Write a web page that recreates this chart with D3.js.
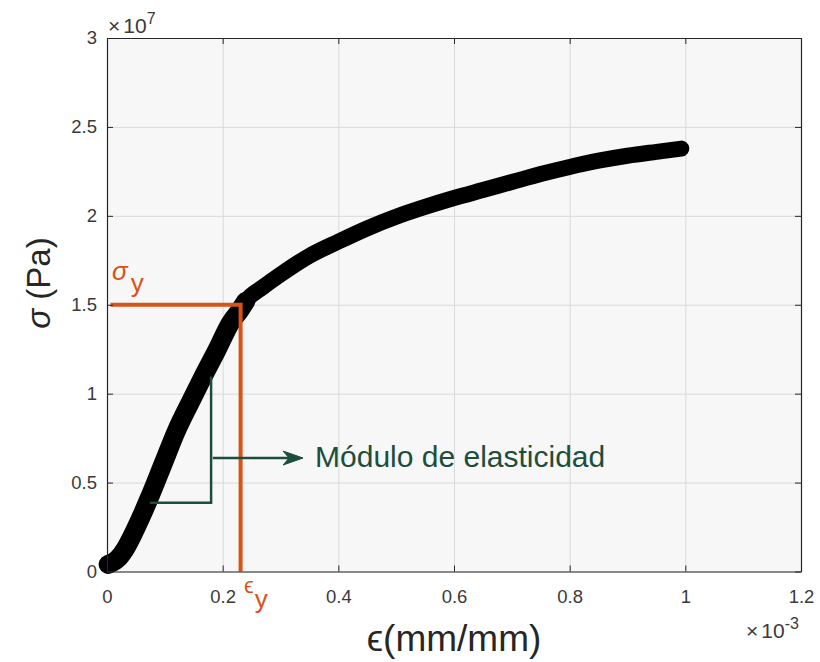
<!DOCTYPE html>
<html>
<head>
<meta charset="utf-8">
<script src="https://cdn.jsdelivr.net/npm/d3@7"></script>
<style>
  html, body { margin: 0; padding: 0; background: #ffffff; }
  svg { display: block; font-family: "Liberation Sans", Arial, Helvetica, sans-serif; }
</style>
</head>
<body>
<svg id="chart" width="820" height="662"></svg>
<script>
// ---- data (strain in 1e-3 mm/mm, stress in 1e7 Pa) ----
const strain = [0.002, 0.018, 0.032, 0.045, 0.058, 0.074, 0.097, 0.120, 0.143, 0.166, 0.190, 0.213, 0.230,
                0.240, 0.270, 0.300, 0.350, 0.400, 0.450, 0.500, 0.550, 0.600, 0.650, 0.700, 0.750, 0.800,
                0.850, 0.900, 0.950, 0.993];
const stress = [0.040, 0.070, 0.130, 0.210, 0.300, 0.420, 0.605, 0.790, 0.945, 1.095, 1.245, 1.395, 1.470,
                1.520, 1.600, 1.670, 1.775, 1.855, 1.930, 1.995, 2.050, 2.100, 2.145, 2.190, 2.235, 2.275,
                2.310, 2.338, 2.360, 2.378];

const xTicks = [0, 0.2, 0.4, 0.6, 0.8, 1, 1.2];
const xTickLabels = ["0", "0.2", "0.4", "0.6", "0.8", "1", "1.2"];
const yTicks = [0, 0.5, 1, 1.5, 2, 2.5, 3];
const yTickLabels = ["0", "0.5", "1", "1.5", "2", "2.5", "3"];

// yield point annotation
const yieldStrain = [0.006, 0.231, 0.231];
const yieldStress = [1.5, 1.5, 0];
// modulus triangle and arrow
const triStrain = [0.074, 0.180, 0.180];
const triStress = [0.387, 0.387, 1.096];
const arrowStrain = [0.183, 0.339];
const arrowStress = [0.638, 0.638];
const annotationText = "Módulo de elasticidad";

// ---- layout ----
const svg = d3.select("#chart");
const L = 107, R = 801, T = 38, B = 571.5;
const x = d3.scaleLinear().domain([0, 1.2]).range([L, R]);
const y = d3.scaleLinear().domain([0, 3]).range([B, T]);
const axisColor = "#262626";
const labelColor = "#3a3a3a";
const orange = "#D95319";
const green = "#1d4d3b";

// plot background
svg.append("rect").attr("x", L).attr("y", T).attr("width", R - L).attr("height", B - T)
  .attr("fill", "#f7f7f7");

// grid
const gx = svg.append("g").attr("transform", `translate(0,${B})`)
  .call(d3.axisBottom(x).tickValues(xTicks).tickSize(-(B - T)).tickFormat(""));
gx.select(".domain").remove();
gx.selectAll("line").attr("stroke", "#dadada").attr("stroke-width", 1);
const gy = svg.append("g").attr("transform", `translate(${L},0)`)
  .call(d3.axisLeft(y).tickValues(yTicks).tickSize(-(R - L)).tickFormat(""));
gy.select(".domain").remove();
gy.selectAll("line").attr("stroke", "#dadada").attr("stroke-width", 1);

// curve
const idx = d3.range(strain.length);
const line = d3.line().x(i => x(strain[i])).y(i => y(stress[i])).curve(d3.curveMonotoneX);
svg.append("path").datum(idx.filter(i => strain[i] <= 0.24)).attr("d", line)
  .attr("fill", "none").attr("stroke", "#000").attr("stroke-width", 19)
  .attr("stroke-linecap", "round").attr("stroke-linejoin", "round");
svg.append("path").datum(idx).attr("d", line)
  .attr("fill", "none").attr("stroke", "#000").attr("stroke-width", 16)
  .attr("stroke-linecap", "round").attr("stroke-linejoin", "round");

// yield lines
const yl = d3.line().x((d, i) => x(yieldStrain[i])).y((d, i) => y(yieldStress[i]));
svg.append("path").datum(yieldStrain).attr("d", yl)
  .attr("fill", "none").attr("stroke", orange).attr("stroke-width", 4).attr("stroke-linejoin", "miter");

// modulus triangle
const tl = d3.line().x((d, i) => x(triStrain[i])).y((d, i) => y(triStress[i]));
svg.append("path").datum(triStrain).attr("d", tl)
  .attr("fill", "none").attr("stroke", green).attr("stroke-width", 2.5);

// arrow
const ax0 = x(arrowStrain[0]), ax1 = x(arrowStrain[1]), ay = y(arrowStress[0]);
svg.append("line").attr("x1", ax0).attr("x2", ax1 - 8).attr("y1", ay).attr("y2", ay)
  .attr("stroke", green).attr("stroke-width", 2.5);
svg.append("path")
  .attr("d", `M${ax1},${ay} L${ax1 - 20},${ay - 7} L${ax1 - 14},${ay} L${ax1 - 20},${ay + 7} Z`)
  .attr("fill", green).attr("stroke", green).attr("stroke-width", 1).attr("stroke-linejoin", "round");
svg.append("text").attr("x", ax1 + 12).attr("y", ay + 9)
  .attr("fill", green).attr("font-size", 30).text(annotationText);

// axes with inward ticks
function styleAxis(g) {
  g.select(".domain").attr("stroke", axisColor).attr("stroke-width", 1.2);
  g.selectAll(".tick line").attr("stroke", axisColor).attr("stroke-width", 1);
  g.selectAll(".tick text").attr("fill", labelColor).attr("font-size", 18.5);
}
const xa = svg.append("g").attr("transform", `translate(0,${B})`)
  .call(d3.axisBottom(x).tickValues(xTicks).tickFormat((d, i) => xTickLabels[i])
    .tickSize(-6).tickSizeOuter(0).tickPadding(18));
styleAxis(xa);
const ya = svg.append("g").attr("transform", `translate(${L},0)`)
  .call(d3.axisLeft(y).tickValues(yTicks).tickFormat((d, i) => yTickLabels[i])
    .tickSize(-6).tickSizeOuter(0).tickPadding(10));
styleAxis(ya);
const xt = svg.append("g").attr("transform", `translate(0,${T})`)
  .call(d3.axisTop(x).tickValues(xTicks).tickFormat("").tickSize(-6).tickSizeOuter(0));
styleAxis(xt);
const yr = svg.append("g").attr("transform", `translate(${R},0)`)
  .call(d3.axisRight(y).tickValues(yTicks).tickFormat("").tickSize(-6).tickSizeOuter(0));
styleAxis(yr);

// exponent labels
function expLabel(px, py, exp) {
  const t = svg.append("text").attr("x", px).attr("y", py).attr("fill", labelColor);
  t.append("tspan").attr("font-size", 21).text("×");
  t.append("tspan").attr("font-size", 21).attr("dx", 3).text("10");
  t.append("tspan").attr("font-size", 16).attr("dy", -9).text(exp);
}
expLabel(108, 33, "7");
expLabel(746, 638, "-3");

// axis titles
svg.append("text").attr("x", (L + R) / 2).attr("y", 651).attr("text-anchor", "middle")
  .attr("fill", axisColor).attr("font-size", 37).text("ϵ(mm/mm)");
const yt = svg.append("text").attr("transform", `translate(50,${283}) rotate(-90)`)
  .attr("text-anchor", "middle").attr("fill", axisColor).attr("font-size", 33);
yt.append("tspan").attr("font-style", "italic").text("σ");
yt.append("tspan").text(" (Pa)");

// yield labels
const sy = svg.append("text").attr("x", 112).attr("y", 280).attr("fill", orange).attr("font-size", 26);
sy.append("tspan").attr("font-style", "italic").text("σ");
sy.append("tspan").attr("dx", 3).attr("dy", 12).text("y");
const ey = svg.append("text").attr("x", 244).attr("y", 593).attr("fill", orange).attr("font-size", 22);
ey.append("tspan").text("ϵ");
ey.append("tspan").attr("font-size", 26).attr("dx", 1).attr("dy", 15).text("y");
</script>
</body>
</html>
